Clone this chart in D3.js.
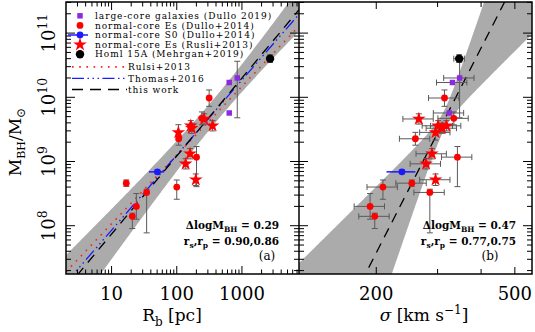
<!DOCTYPE html>
<html>
<head>
<meta charset="utf-8">
<script src="https://cdn.jsdelivr.net/npm/d3@7"></script>
<style>
  body { margin: 0; background: #fff; }
  text { font-family: "DejaVu Serif", serif; fill: #000; }
</style>
</head>
<body>
<script>
// ---- data ----
// normal-core Es (Dullo+2014)
const dulloRb = [314, 243, 107, 201, 16.8, 100, 34.5, 24, 20.8];
const dulloM = [9.75e9, 4.7e9, 2.26e9, 1.17e9, 4.6e8, 4.0e8, 3.3e8, 2.0e8, 1.4e8];
const dulloSig = [314, 334, 259, 342, 253, 209, 285, 192, 198];
const dulloUp = [0.125, 0.1, 0.1, 0.165, 0.05, 0.11, 0.05, 0.2, 0.05]; // dex
const dulloDn = [0.13, 0.1, 0.1, 0.46, 0.05, 0.19, 0.63, 0.2, 0.19];

// normal-core Es (Rusli+2013)
const rusliRb = [263, 354, 164, 170, 106, 160, 137, 196];
const rusliM = [4.6e9, 3.6e9, 3.6e9, 3.3e9, 2.84e9, 1.32e9, 9.2e8, 5.2e8];
const rusliSig = [265, 318, 301, 309, 296, 289, 278, 296];
const rusliErr = [0.08, 0.08, 0.08, 0.08, 0.12, 0.08, 0.08, 0.09];

// large-core galaxies (Dullo 2019)
const largeRb = [638, 847, 638];
const largeM = [1.7e10, 2.0e10, 5.7e9];
const largeSig = [331, 347, 324];
const largeUp = [0, 0.26, 0];
const largeDn = [0, 0.62, 0];

// normal-core S0 (Dullo+2014)
const s0Rb = [50.5], s0RbLo = [37.5], s0RbHi = [63.8];
const s0M = [6.9e8];
const s0Sig = [237], s0SigLo = [214], s0SigHi = [259];

// Homl 15A (Mehrgan+2019)
const homlRb = [2700], homlRbLo = [2450], homlRbHi = [2950];
const homlM = [4.0e10];
const homlSig = [346];

const sigFrac = 0.1; // sigma errors ~10%

// fits: [slope, log pivot x, log M at pivot, slope err, zero-point err]
const fitRb = [1.215, 2.6, 9.814, 0.21, 0.2];
const fitSig = [10.6, Math.log10(313), 9.64, 5.25, 0.15];
const rusliFit = [1.07, 1, 8.03];     // Rusli+2013
const thomasFit = [1.17, 3, 10.27];   // Thomas+2016

const legendLabels = [
  "large-core galaxies (Dullo 2019)",
  "normal-core Es (Dullo+2014)",
  "normal-core S0 (Dullo+2014)",
  "normal-core Es (Rusli+2013)",
  "Homl 15A (Mehrgan+2019)",
  "Rulsi+2013",
  "Thomas+2016",
  "this work"
];

// ---- chart ----
const W = 535, H = 332;
const yTop = 2, yBot = 274, xA = 66, xB = 299, xC = 532;
const purple = "#8a2be2", errCol = "#5a5a5a", bandCol = "#ababab";

const svg = d3.select("body").append("svg")
  .attr("width", W).attr("height", H);
svg.append("rect").attr("width", W).attr("height", H).attr("fill", "#fff");

const y = d3.scaleLog().domain([1.77e7, 3.05e11]).range([yBot, yTop]);
const xL = d3.scaleLog().domain([2, 7500]).range([xA, xB]);
const xR = d3.scaleLog().domain([120, 560]).range([xB, xC]);

const defs = svg.append("defs");
defs.append("clipPath").attr("id", "clipL").append("rect")
  .attr("x", xA).attr("y", yTop).attr("width", xB - xA).attr("height", yBot - yTop);
defs.append("clipPath").attr("id", "clipR").append("rect")
  .attr("x", xB).attr("y", yTop).attr("width", xC - xB).attr("height", yBot - yTop);

const gL = svg.append("g").attr("clip-path", "url(#clipL)");
const gR = svg.append("g").attr("clip-path", "url(#clipR)");

// fit band
function drawFit(g, x, f) {
  const [a, x0, b, ea, eb] = f;
  const [d0, d1] = x.domain().map(Math.log10);
  const lx = d3.range(0, 201).map(i => d0 + (d1 - d0) * i / 200);
  const hw = v => Math.sqrt(eb * eb + (ea * (v - x0)) ** 2);
  const c = v => b + a * (v - x0);
  g.append("path")
    .datum(lx)
    .attr("fill", bandCol)
    .attr("d", d3.area()
      .x(v => x(10 ** v))
      .y0(v => y(10 ** (c(v) - hw(v))))
      .y1(v => y(10 ** (c(v) + hw(v)))));
}

function drawLine(g, x, f, color, dash, w) {
  const [a, x0, b] = f;
  const [d0, d1] = x.domain().map(Math.log10);
  g.append("path")
    .datum([d0, d1])
    .attr("fill", "none")
    .attr("stroke", color)
    .attr("stroke-width", w)
    .attr("stroke-dasharray", dash)
    .attr("d", d3.line().x(v => x(10 ** v)).y(v => y(10 ** (b + a * (v - x0)))));
}

drawFit(gL, xL, fitRb);
drawFit(gR, xR, fitSig);
drawLine(gL, xL, rusliFit, "#ff2020", "1.6,5.6", 1.6);
drawLine(gL, xL, thomasFit, "#1a1aff", "12,3.5,1.5,3.5,1.5,3.5,1.5,3.5", 1.3);
drawLine(gL, xL, fitRb, "#000", "10,7", 1.3);
drawLine(gR, xR, fitSig, "#000", "10,7", 1.3);

// ---- points ----
const pts = [];
dulloRb.forEach((r, i) => pts.push({kind: "dullo", rb: r, m: dulloM[i], sig: dulloSig[i],
  up: dulloUp[i], dn: dulloDn[i]}));
rusliRb.forEach((r, i) => pts.push({kind: "rusli", rb: r, m: rusliM[i], sig: rusliSig[i],
  up: rusliErr[i], dn: rusliErr[i]}));
largeRb.forEach((r, i) => pts.push({kind: "large", rb: r, m: largeM[i], sig: largeSig[i],
  up: largeUp[i], dn: largeDn[i]}));
s0Rb.forEach((r, i) => pts.push({kind: "s0", rb: r, rbLo: s0RbLo[i], rbHi: s0RbHi[i], m: s0M[i],
  sig: s0Sig[i], sigLo: s0SigLo[i], sigHi: s0SigHi[i], up: 0.03, dn: 0.03}));
homlRb.forEach((r, i) => pts.push({kind: "homl", rb: r, rbLo: homlRbLo[i], rbHi: homlRbHi[i],
  m: homlM[i], sig: homlSig[i], sigLo: homlSig[i] * 0.965, sigHi: homlSig[i] * 1.035, up: 0.06, dn: 0.06}));

function errBars(g, x, key, lo, hi) {
  const cap = 3;
  const eg = g.append("g").attr("stroke", errCol).attr("stroke-width", 1).attr("fill", "none");
  pts.forEach(p => {
    const px = x(p[key]), py = y(p.m);
    if (p.up || p.dn) {
      const y1 = y(p.m * 10 ** p.up), y2 = y(p.m / 10 ** p.dn);
      eg.append("line").attr("x1", px).attr("x2", px).attr("y1", y1).attr("y2", y2);
      if (p.up) eg.append("line").attr("x1", px - cap).attr("x2", px + cap).attr("y1", y1).attr("y2", y1);
      if (p.dn) eg.append("line").attr("x1", px - cap).attr("x2", px + cap).attr("y1", y2).attr("y2", y2);
    }
    const l = lo(p), h = hi(p);
    if (l != null) {
      const col = p.kind === "s0" ? "#1a1aff" : errCol;
      const sw = p.kind === "s0" ? 1.5 : 1;
      eg.append("line").attr("stroke", col).attr("stroke-width", sw)
        .attr("x1", x(l)).attr("x2", x(h)).attr("y1", py).attr("y2", py);
      if (p.kind !== "s0") {
        eg.append("line").attr("x1", x(l)).attr("x2", x(l)).attr("y1", py - cap).attr("y2", py + cap);
        eg.append("line").attr("x1", x(h)).attr("x2", x(h)).attr("y1", py - cap).attr("y2", py + cap);
      }
    }
  });
}

errBars(gL, xL, "rb", p => p.rbLo ?? null, p => p.rbHi ?? null);
errBars(gR, xR, "sig",
  p => p.sigLo ?? p.sig * (1 - sigFrac),
  p => p.sigHi ?? p.sig * (1 + sigFrac));

const star = d3.symbol(d3.symbolStar, 58);
const square = d3.symbol(d3.symbolSquare, 30);

function marker(g, kind, px, py) {
  if (kind === "rusli")
    g.append("path").attr("d", star()).attr("fill", "#ff0000")
      .attr("transform", `translate(${px},${py})`);
  else if (kind === "large")
    g.append("path").attr("d", square()).attr("fill", purple)
      .attr("transform", `translate(${px},${py})`);
  else
    g.append("circle").attr("cx", px).attr("cy", py)
      .attr("r", kind === "homl" ? 4.2 : 3.4)
      .attr("fill", kind === "dullo" ? "#ff0000" : kind === "s0" ? "#1a1aff" : "#000");
}

const order = ["dullo", "rusli", "s0", "large", "homl"];
order.forEach(k => pts.filter(p => p.kind === k).forEach(p => {
  marker(gL, k, xL(p.rb), y(p.m));
  marker(gR, k, xR(p.sig), y(p.m));
}));

// ---- frames and ticks ----
const ax = svg.append("g").attr("stroke", "#000").attr("fill", "none");
ax.append("rect").attr("x", xA).attr("y", yTop).attr("width", xC - xA).attr("height", yBot - yTop)
  .attr("stroke-width", 1.5);
ax.append("line").attr("x1", xB).attr("x2", xB).attr("y1", yTop).attr("y2", yBot).attr("stroke-width", 1.5);

const yMajor = [1e8, 1e9, 1e10, 1e11];
const yMinor = [];
for (let e = 7; e <= 11; e++) for (let k = 2; k <= 9; k++) {
  const v = k * 10 ** e;
  if (v > y.domain()[0] && v < y.domain()[1]) yMinor.push(v);
}
const tk = ax.append("g").attr("stroke-width", 1);
function yTicks(vals, len) {
  vals.forEach(v => {
    const py = y(v);
    tk.append("line").attr("x1", xA).attr("x2", xA + len).attr("y1", py).attr("y2", py);
    tk.append("line").attr("x1", xB - len).attr("x2", xB + len).attr("y1", py).attr("y2", py);
    tk.append("line").attr("x1", xC - len).attr("x2", xC).attr("y1", py).attr("y2", py);
  });
}
yTicks(yMajor, 9);
yTicks(yMinor, 5);

function xTicks(x, vals, len) {
  vals.forEach(v => {
    const px = x(v);
    tk.append("line").attr("x1", px).attr("x2", px).attr("y1", yBot).attr("y2", yBot - len);
    tk.append("line").attr("x1", px).attr("x2", px).attr("y1", yTop).attr("y2", yTop + len);
  });
}
const rbMajor = [10, 100, 1000];
const rbMinor = [];
for (let e = 0; e <= 3; e++) for (let k = 2; k <= 9; k++) {
  const v = k * 10 ** e;
  if (v > 2 && v < 7500) rbMinor.push(v);
}
xTicks(xL, rbMajor, 8);
xTicks(xL, rbMinor, 4.5);
const sigMajor = [200, 500];
const sigMinor = [300, 400];
xTicks(xR, sigMajor, 7);
xTicks(xR, sigMinor, 5);

// tick labels
svg.append("g").selectAll("text").data(rbMajor).join("text")
  .attr("x", d => xL(d)).attr("y", 300).attr("text-anchor", "middle")
  .attr("font-size", 18).text(d => d);
svg.append("g").selectAll("text").data(sigMajor).join("text")
  .attr("x", d => xR(d)).attr("y", 300).attr("text-anchor", "middle")
  .attr("font-size", 18).text(d => d);

const yl = svg.append("g").selectAll("text").data(yMajor).join("text")
  .attr("transform", d => `translate(55,${y(d)}) rotate(-90)`)
  .attr("text-anchor", "middle").attr("font-size", 18);
yl.append("tspan").text("10");
yl.append("tspan").attr("font-size", 12.5).attr("dy", -8).text(d => Math.round(Math.log10(d)));

// axis titles
const tx = svg.append("text").attr("x", 172).attr("y", 321).attr("text-anchor", "middle").attr("font-size", 17);
tx.append("tspan").text("R");
tx.append("tspan").attr("font-size", 12).attr("dy", 5).text("b");
tx.append("tspan").attr("dy", -5).text(" [pc]");

const ts = svg.append("text").attr("x", 424).attr("y", 321).attr("text-anchor", "middle").attr("font-size", 17);
ts.append("tspan").attr("font-style", "italic").text("σ");
ts.append("tspan").text(" [km s");
ts.append("tspan").attr("font-size", 12).attr("dy", -7).text("−1");
ts.append("tspan").attr("dy", 7).text("]");

const tyl = svg.append("text").attr("transform", "translate(21,142) rotate(-90)")
  .attr("text-anchor", "middle").attr("font-size", 17);
tyl.append("tspan").text("M");
tyl.append("tspan").attr("font-size", 11).attr("dy", 4).text("BH");
tyl.append("tspan").attr("dy", -4).text("/M");
tyl.append("tspan").attr("font-size", 12).attr("dy", 4).text("⊙");

// annotations
function stats(xr, yb, dval, rval, tag, tagX) {
  const g = svg.append("g").attr("font-size", 10.5).attr("font-weight", "bold");
  const t1 = g.append("text").attr("x", xr).attr("y", yb).attr("text-anchor", "end");
  t1.append("tspan").text("ΔlogM");
  t1.append("tspan").attr("font-size", 7.5).attr("dy", 3).text("BH");
  t1.append("tspan").attr("dy", -3).text(" = " + dval);
  const t2 = g.append("text").attr("x", xr).attr("y", yb + 16).attr("text-anchor", "end");
  t2.append("tspan").text("r");
  t2.append("tspan").attr("font-size", 7.5).attr("dy", 3).text("s");
  t2.append("tspan").attr("dy", -3).text(",r");
  t2.append("tspan").attr("font-size", 7.5).attr("dy", 3).text("p");
  t2.append("tspan").attr("dy", -3).text(" = " + rval);
  g.append("text").attr("x", tagX).attr("y", yb + 31).attr("text-anchor", "middle")
    .attr("font-size", 12).attr("font-weight", "normal").text(tag);
}
stats(279, 229, "0.29", "0.90,0.86", "(a)", 267);
stats(516, 228.5, "0.47", "0.77,0.75", "(b)", 490);

// legend
const lg = svg.append("g");
const rowsY = [15.8, 25.4, 35, 44.6, 54.2, 66.9, 78.3, 89.5];
const symX = 80, txtX = 95;
marker(lg, "large", symX, rowsY[0]);
marker(lg, "dullo", symX, rowsY[1]);
lg.append("line").attr("x1", 68).attr("x2", 88).attr("y1", rowsY[2]).attr("y2", rowsY[2])
  .attr("stroke", "#1a1aff").attr("stroke-width", 1.5);
marker(lg, "s0", symX, rowsY[2]);
marker(lg, "rusli", symX, rowsY[3]);
marker(lg, "homl", symX, rowsY[4]);
const lstyles = [["#ff2020", "1.6,5.6", 1.6], ["#1a1aff", "12,3.5,1.5,3.5,1.5,3.5,1.5,3.5", 1.3], ["#000", "11,7", 1.3]];
lstyles.forEach(([c, d, w], i) => {
  lg.append("line").attr("x1", 72).attr("x2", 127).attr("y1", rowsY[5 + i]).attr("y2", rowsY[5 + i])
    .attr("stroke", c).attr("stroke-dasharray", d).attr("stroke-width", w);
});
lg.selectAll("text").data(legendLabels).join("text")
  .attr("x", (d, i) => i < 5 ? txtX : 128)
  .attr("y", (d, i) => rowsY[i] + 3.2)
  .attr("font-size", 9)
  .attr("letter-spacing", 0.95)
  .text(d => d);
</script>
</body>
</html>
